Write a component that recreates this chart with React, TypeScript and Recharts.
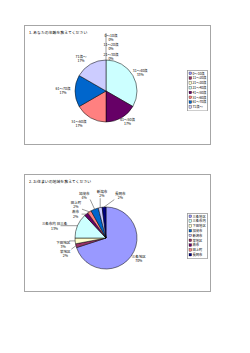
import React from 'react';
import { PieChart, Pie, Cell, Legend } from 'recharts';

// Q1: age
const ageNames = ['0～10歳', '11～20歳', '21～30歳', '31～40歳', '41～50歳', '51～60歳', '61～70歳', '71歳～'];
const ageCounts = [0, 0, 0, 2, 1, 1, 1, 1];

// Q2: area
const areaNames = ['三条地区', '栄地区', '下田地区', '三条市内', '燕市', '田上町', '加茂市', '新潟市', '長岡市'];
const areaLabels = ['三条地区', '栄地区', '下田地区', '三条市内 旧三条', '燕市', '田上町', '加茂市', '新潟市', '長岡市'];
const areaPercents = [70, 2, 3, 13, 2, 2, 4, 2, 2];

const palette = ['#9999FF', '#993366', '#FFFFCC', '#CCFFFF', '#660066', '#FF8080', '#0066CC', '#CCCCFF', '#000080'];

const FONT = '"Noto Sans CJK JP", "Noto Sans", sans-serif';
const RAD = Math.PI / 180;

const ageData = ageNames.map((name, i) => ({ name, label: name, value: ageCounts[i] }));
const areaData = areaNames.map((name, i) => ({ name, label: areaLabels[i], value: areaPercents[i] }));

type Nudge = [number, number];

// label offsets from the library position, Excel moved them by hand
const ageNudges: Nudge[] = [[5, -11], [5, -2], [5, 8], [-3, 2.5], [0, -7], [-5.5, -5], [0, -1], [-3.5, 5]];
const areaNudges: Nudge[] = [[-2, -5], [1, 5], [0, 2.5], [-12, 5], [-3, 9], [-7, 3], [-6, -3], [4, -2], [17, 0]];

const makeLabel = (nudges: Nudge[], leaders: boolean) => (p: any) => {
  const { cx, cy, midAngle, outerRadius, index, percent, payload } = p;
  const cos = Math.cos(-midAngle * RAD);
  const sin = Math.sin(-midAngle * RAD);
  const R = outerRadius + 12;
  const [dx, dy] = nudges[index] || [0, 0];
  const x = cx + R * cos + dx;
  const y = cy + R * sin + dy;
  const ex = cx + outerRadius * cos;
  const ey = cy + outerRadius * sin;
  let line = null;
  if (leaders) {
    const tx = Math.max(x - 6, Math.min(x + 6, ex));
    const ty = Math.max(y - 4.5, Math.min(y + 4.5, ey));
    if (Math.hypot(tx - ex, ty - ey) > 3) {
      line = <line x1={ex} y1={ey} x2={tx} y2={ty} stroke="#000" strokeWidth={0.4} />;
    }
  } else if (percent === 0 && index === 0) {
    line = <line x1={ex} y1={ey} x2={ex} y2={y - 4} stroke="#000" strokeWidth={0.4} />;
  }
  const name = payload?.label ?? p.name;
  return (
    <g>
      {line}
      <text x={x} y={y - 0.5} textAnchor="middle" fontSize={3.5} fill="#000" fontFamily={FONT}>
        <tspan x={x}>{name}</tspan>
        <tspan x={x} dy={4.2}>{Math.round(percent * 100)}%</tspan>
      </text>
    </g>
  );
};

const BoxLegend = (props: any) => {
  const items = props.payload || [];
  const h = items.length * 4.8 + 2;
  return (
    <svg width={21} height={h + 1} style={{ display: 'block' }}>
      <rect x={0.5} y={0.5} width={20} height={h} fill="#fff" stroke="#9a9a9a" strokeWidth={0.8} />
      {items.map((e: any, i: number) => (
        <g key={i}>
          <rect x={2} y={2 + i * 4.8} width={2.6} height={2.6} fill={e.color} stroke="#000" strokeWidth={0.3} />
          <text x={5.5} y={4.6 + i * 4.8} fontSize={3.3} fill="#000" fontFamily={FONT}>{e.value}</text>
        </g>
      ))}
    </svg>
  );
};

const ChartBox = ({ top, height, title, data, nudges, leaders, legendTop, cy }: any) => (
  <div style={{ position: 'absolute', left: 24, top, width: 187, height, border: '1px solid #a6a6a6', boxSizing: 'border-box', background: '#fff' }}>
    <svg width={120} height={10} style={{ position: 'absolute', left: 0, top: 0 }}>
      <text x={4} y={7.5} fontSize={3.9} fontWeight={400} fill="#000" fontFamily={FONT}>{title}</text>
    </svg>
    <PieChart width={185} height={height - 2} margin={{ top: 0, right: 0, bottom: 0, left: 0 }}>
      <Pie
        data={data}
        dataKey="value"
        nameKey="name"
        cx={81}
        cy={cy}
        outerRadius={31}
        startAngle={90}
        endAngle={-270}
        stroke="#000"
        strokeWidth={0.5}
        label={makeLabel(nudges, leaders)}
        labelLine={false}
        isAnimationActive={false}
      >
        {data.map((_: any, i: number) => (
          <Cell key={i} fill={palette[i]} />
        ))}
      </Pie>
      <Legend
        layout="vertical"
        align="right"
        verticalAlign="top"
        content={<BoxLegend />}
        wrapperStyle={{ left: 162, top: legendTop, width: 21, right: 'auto' }}
      />
    </PieChart>
  </div>
);

export default function App() {
  return (
    <div style={{ position: 'absolute', left: 0, top: 0, width: 250, height: 353, background: '#fff' }}>
      <ChartBox top={25} height={120} cy={65} title="1. あなたの年齢を教えてください" data={ageData} nudges={ageNudges} leaders={false} legendTop={44} />
      <ChartBox top={174} height={118} cy={63} title="2. お住まいの地域を教えてください" data={areaData} nudges={areaNudges} leaders={true} legendTop={38} />
    </div>
  );
}
